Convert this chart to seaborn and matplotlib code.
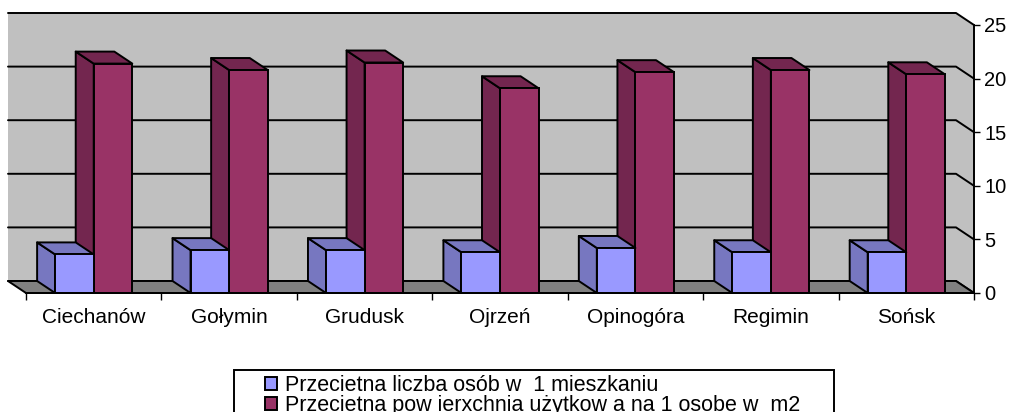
import numpy as np
import pandas as pd
import matplotlib
matplotlib.use("Agg")
import matplotlib.pyplot as plt
import matplotlib.transforms as mtransforms
from matplotlib.patches import Polygon, Rectangle
import seaborn as sns

# data
gminy = ["Ciechanów", "Gołymin", "Grudusk", "Ojrzeń", "Opinogóra", "Regimin", "Sońsk"]
osoby = [3.6, 4.0, 4.0, 3.8, 4.2, 3.8, 3.8]
powierzchnia = [21.4, 20.8, 21.5, 19.1, 20.6, 20.8, 20.4]
serie = ["Przecietna liczba osób w  1 mieszkaniu",
         "Przecietna pow ierxchnia użytkow a na 1 osobe w  m2"]
y_ticks = [0, 5, 10, 15, 20, 25]

front_colors = ["#9999FF", "#993366"]
shade_colors = ["#7777C0", "#73264F"]
WALL = "#C0C0C0"
FLOOR = "#808080"
DX, DY = -18, 12   # depth offset of the 3d box, pixels
LW = 1.4

df = pd.DataFrame({
    "gmina": gminy * 2,
    "seria": [serie[0]] * len(gminy) + [serie[1]] * len(gminy),
    "wartosc": osoby + powierzchnia,
})

sns.set_theme(style="white")
plt.rcParams["font.family"] = ["Liberation Sans", "DejaVu Sans"]

W, H = 1009, 412
fig = plt.figure(figsize=(W / 100, H / 100), dpi=100)
ax = fig.add_axes([26 / W, (H - 293) / H, 948 / W, 268 / H])
ax.set_facecolor("none")

sns.barplot(data=df, x="gmina", y="wartosc", hue="seria", order=gminy,
            hue_order=serie, palette=front_colors, saturation=1, width=0.57,
            edgecolor="black", linewidth=LW, ax=ax)
handles, labels = ax.get_legend_handles_labels()
ax.get_legend().remove()

ax.set_xlim(-0.5, len(gminy) - 0.5)
ax.set_ylim(0, 25)
x0, x1 = ax.get_xlim()
ident = mtransforms.IdentityTransform()


def px(x, y, depth=0.0):
    p = ax.transData.transform((x, y))
    return (p[0] + depth * DX, p[1] + depth * DY)


def face(points, color, z, edge="black"):
    ax.add_patch(Polygon(points, closed=True, facecolor=color, edgecolor=edge,
                         linewidth=LW, transform=ident, clip_on=False,
                         zorder=z, joinstyle="round"))


# walls and floor
face([px(x0, 0, 1), px(x1, 0, 1), px(x1, 25, 1), px(x0, 25, 1)], WALL, 0, "none")
face([px(x1, 0, 1), px(x1, 25, 1), px(x1, 25, 0), px(x1, 0, 0)], WALL, 0, "none")
for v in y_ticks:
    a, b, c = px(x0, v, 1), px(x1, v, 1), px(x1, v, 0)
    ax.plot([a[0], b[0], c[0]], [a[1], b[1], c[1]], color="black", lw=LW,
            transform=ident, clip_on=False, zorder=1)
face([px(x0, 0, 0), px(x1, 0, 0), px(x1, 0, 1), px(x0, 0, 1)], FLOOR, 1.5)

# 3d sides and tops of the bars
for k, cont in enumerate(ax.containers):
    zbase = 4 if k == 0 else 3
    for bar in cont:
        bx, bw, bh = bar.get_x(), bar.get_width(), bar.get_height()
        face([px(bx, 0), px(bx, bh), px(bx, bh, 1), px(bx, 0, 1)],
             shade_colors[k], zbase)
        face([px(bx, bh), px(bx + bw, bh), px(bx + bw, bh, 1), px(bx, bh, 1)],
             shade_colors[k], zbase)
        bar.set_zorder(zbase + 0.5)

# axes: front floor edge and value axis on the right
for side in ["left", "top"]:
    ax.spines[side].set_visible(False)
for side in ["bottom", "right"]:
    ax.spines[side].set_color("black")
    ax.spines[side].set_linewidth(LW)
    ax.spines[side].set_zorder(6)

ax.yaxis.tick_right()
ax.set_yticks(y_ticks)
ax.set_yticklabels([str(v) for v in y_ticks])
ax.tick_params(axis="y", right=True, length=4.5, width=1, color="black",
               pad=3, labelsize=14.5, labelcolor="black")
ax.set_xticks(range(len(gminy)))
ax.set_xticklabels(gminy)
ax.set_xticks(np.arange(-0.5, len(gminy), 1), minor=True)
ax.tick_params(axis="x", which="major", length=0, pad=10.5, labelsize=15,
               labelcolor="black")
ax.tick_params(axis="x", which="minor", bottom=True, length=5, width=1,
               color="black")
ax.set_xlabel("")
ax.set_ylabel("")
ax.grid(False)

# legend, its box runs past the bottom edge of the picture
fig.patches.append(Rectangle((234 / W, -0.1), 600 / W, 0.1 + (H - 370) / H,
                             transform=fig.transFigure, facecolor="white",
                             edgecolor="black", linewidth=LW, zorder=0))
fig.legend(handles, labels, loc="upper left",
           bbox_to_anchor=(265 / W, 1 - 375 / H), frameon=False,
           fontsize=15.5, labelcolor="black", handlelength=0.55,
           handleheight=0.55, handletextpad=0.4, labelspacing=-0.05,
           borderpad=0, borderaxespad=0)

fig.savefig("out.png", dpi=100, facecolor="white")
